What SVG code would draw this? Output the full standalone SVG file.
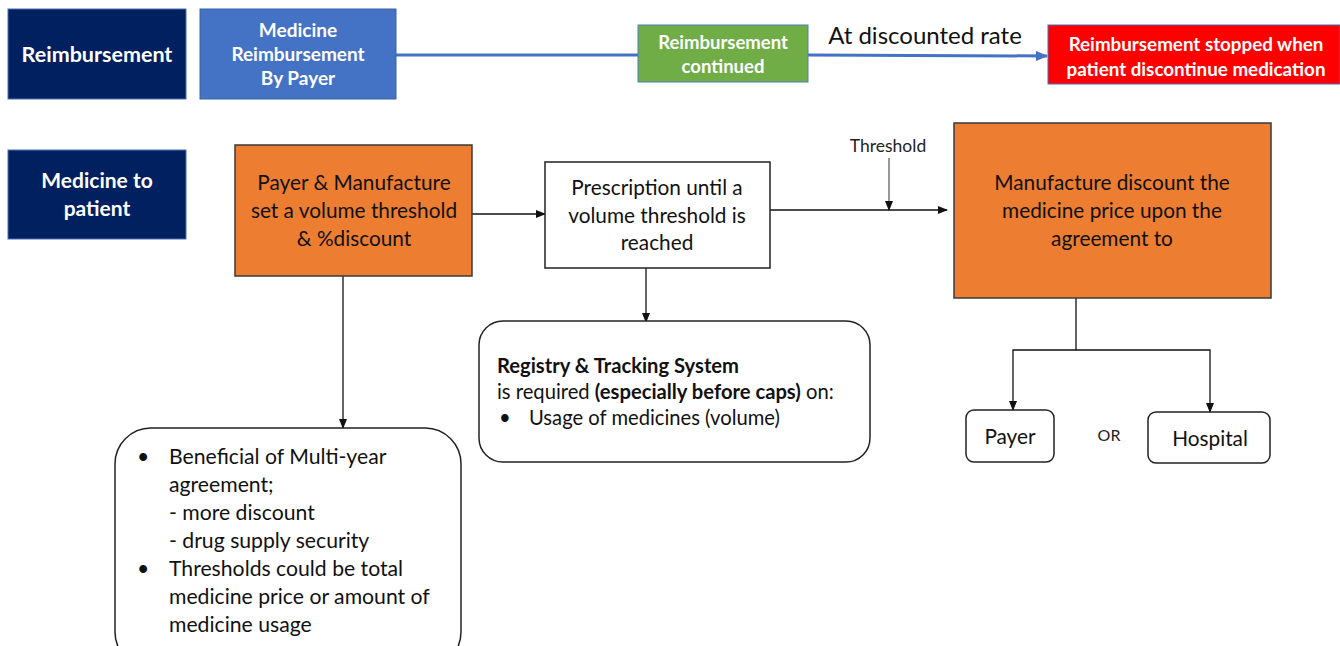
<svg xmlns="http://www.w3.org/2000/svg" width="1340" height="646" viewBox="0 0 1340 646">
  <style>
    text { font-family: Lato, "Noto Sans", "Liberation Sans", sans-serif; }
    .hdr { fill: #002060; stroke: #4a6fb5; stroke-width: 1; }
    .wb { fill: #ffffff; font-weight: bold; text-anchor: middle; }
    .dk { fill: #111111; text-anchor: middle; font-size: 20.8px; }
    .org { fill: #ED7D31; stroke: #3a3a3a; stroke-width: 1.5; }
    .wbox { fill: #ffffff; stroke: #222222; stroke-width: 1.5; }
    .ln { stroke: #111111; stroke-width: 1.3; fill: none; }
    .body { fill: #111111; font-size: 21.2px; }
    .reg { fill: #111111; font-size: 20.2px; }
    .dot { fill: #111111; }
  </style>
  <defs>
    <marker id="ah" markerWidth="10" markerHeight="8" refX="9" refY="4" orient="auto" markerUnits="userSpaceOnUse">
      <path d="M0,0 L10,4 L0,8 z" fill="#111111"/>
    </marker>
    <marker id="ahb" markerWidth="12" markerHeight="10" refX="11" refY="5" orient="auto" markerUnits="userSpaceOnUse">
      <path d="M0,0 L12,5 L0,10 z" fill="#4472C4"/>
    </marker>
  </defs>

  <rect width="1340" height="646" fill="#ffffff"/>

  <!-- connectors -->
  <g id="connectors">
    <line x1="396" y1="55" x2="638" y2="55" stroke="#4472C4" stroke-width="3"/>
    <line x1="808" y1="55" x2="1047" y2="56" stroke="#4472C4" stroke-width="3" marker-end="url(#ahb)"/>
    <line class="ln" x1="472" y1="214" x2="545" y2="214" marker-end="url(#ah)"/>
    <line class="ln" x1="770" y1="210" x2="947" y2="210" marker-end="url(#ah)"/>
    <line x1="889" y1="158" x2="889" y2="210" stroke="#333333" stroke-width="1" marker-end="url(#ah)"/>
    <line class="ln" x1="646" y1="268" x2="646" y2="322" marker-end="url(#ah)"/>
    <line class="ln" x1="343" y1="276" x2="343" y2="428" marker-end="url(#ah)"/>
    <polyline class="ln" points="1076,298 1076,350 1013,350 1013,410" marker-end="url(#ah)"/>
    <polyline class="ln" points="1076,350 1210,350 1210,412" marker-end="url(#ah)"/>
  </g>

  <!-- top row -->
  <g id="reimbursement-label">
    <rect class="hdr" x="8" y="9" width="178" height="90"/>
    <text class="wb" x="97" y="62" font-size="21.5">Reimbursement</text>
  </g>
  <g id="medicine-reimbursement">
    <rect x="200" y="9" width="196" height="90" fill="#4472C4" stroke="#3a62a8" stroke-width="1"/>
    <text class="wb" x="298" y="37" font-size="19">Medicine</text>
    <text class="wb" x="298" y="61" font-size="19">Reimbursement</text>
    <text class="wb" x="298" y="85" font-size="19">By Payer</text>
  </g>
  <g id="reimbursement-continued">
    <rect x="638" y="25" width="170" height="57" fill="#70AD47" stroke="#4f7fb8" stroke-width="1"/>
    <text class="wb" x="723" y="49" font-size="18.5">Reimbursement</text>
    <text class="wb" x="723" y="73" font-size="18.5">continued</text>
  </g>
  <text id="discount-label" x="925" y="44" font-size="24" fill="#111111" text-anchor="middle">At discounted rate</text>
  <g id="reimbursement-stopped">
    <rect x="1048" y="25" width="292" height="59" fill="#FF0000" stroke="#4a6fb5" stroke-width="1"/>
    <text class="wb" x="1196" y="51" font-size="18.8">Reimbursement stopped when</text>
    <text class="wb" x="1196" y="76" font-size="18.8">patient discontinue medication</text>
  </g>

  <!-- second row -->
  <g id="medicine-to-patient">
    <rect class="hdr" x="8" y="150" width="178" height="89"/>
    <text class="wb" x="97" y="188" font-size="21">Medicine to</text>
    <text class="wb" x="97" y="216" font-size="21">patient</text>
  </g>
  <g id="set-threshold">
    <rect class="org" x="235" y="145" width="237" height="131"/>
    <text class="dk" x="354" y="190">Payer &amp; Manufacture</text>
    <text class="dk" x="354" y="218">set a volume threshold</text>
    <text class="dk" x="354" y="246">&amp; %discount</text>
  </g>
  <g id="prescription">
    <rect class="wbox" x="545" y="162" width="225" height="106"/>
    <text class="dk" x="657" y="195">Prescription until a</text>
    <text class="dk" x="657" y="223">volume threshold is</text>
    <text class="dk" x="657" y="250">reached</text>
  </g>
  <text id="threshold-label" x="888" y="152" font-size="17.5" fill="#222222" text-anchor="middle">Threshold</text>
  <g id="manufacture-discount">
    <rect class="org" x="954" y="123" width="317" height="175"/>
    <text class="dk" x="1112" y="190">Manufacture discount the</text>
    <text class="dk" x="1112" y="218">medicine price upon the</text>
    <text class="dk" x="1112" y="246">agreement to</text>
  </g>
  <g id="payer">
    <rect class="wbox" x="966" y="410" width="88" height="52" rx="8"/>
    <text class="dk" x="1010" y="444">Payer</text>
  </g>
  <text id="or-label" x="1109" y="441" font-size="16" fill="#222222" text-anchor="middle">OR</text>
  <g id="hospital">
    <rect class="wbox" x="1148" y="412" width="122" height="51" rx="8"/>
    <text class="dk" x="1210" y="446">Hospital</text>
  </g>

  <g id="registry">
    <rect class="wbox" x="479" y="321" width="391" height="141" rx="24"/>
    <text class="reg" x="497" y="373" font-weight="bold">Registry &amp; Tracking System</text>
    <text class="reg" x="497" y="399">is required <tspan font-weight="bold">(especially before caps)</tspan> on:</text>
    <text class="reg" x="499" y="425" font-size="15">•</text>
    <text class="reg" x="529" y="425">Usage of medicines (volume)</text>
  </g>

  <g id="benefits">
    <rect class="wbox" x="115" y="428" width="346" height="240" rx="36"/>
    <text class="body" x="137" y="464" font-size="16">•</text>
    <text class="body" x="169" y="464">Beneficial of Multi-year</text>
    <text class="body" x="169" y="492">agreement;</text>
    <text class="body" x="169" y="520">- more discount</text>
    <text class="body" x="169" y="548">- drug supply security</text>
    <text class="body" x="137" y="576" font-size="16">•</text>
    <text class="body" x="169" y="576">Thresholds could be total</text>
    <text class="body" x="169" y="604">medicine price or amount of</text>
    <text class="body" x="169" y="632">medicine usage</text>
  </g>
</svg>
